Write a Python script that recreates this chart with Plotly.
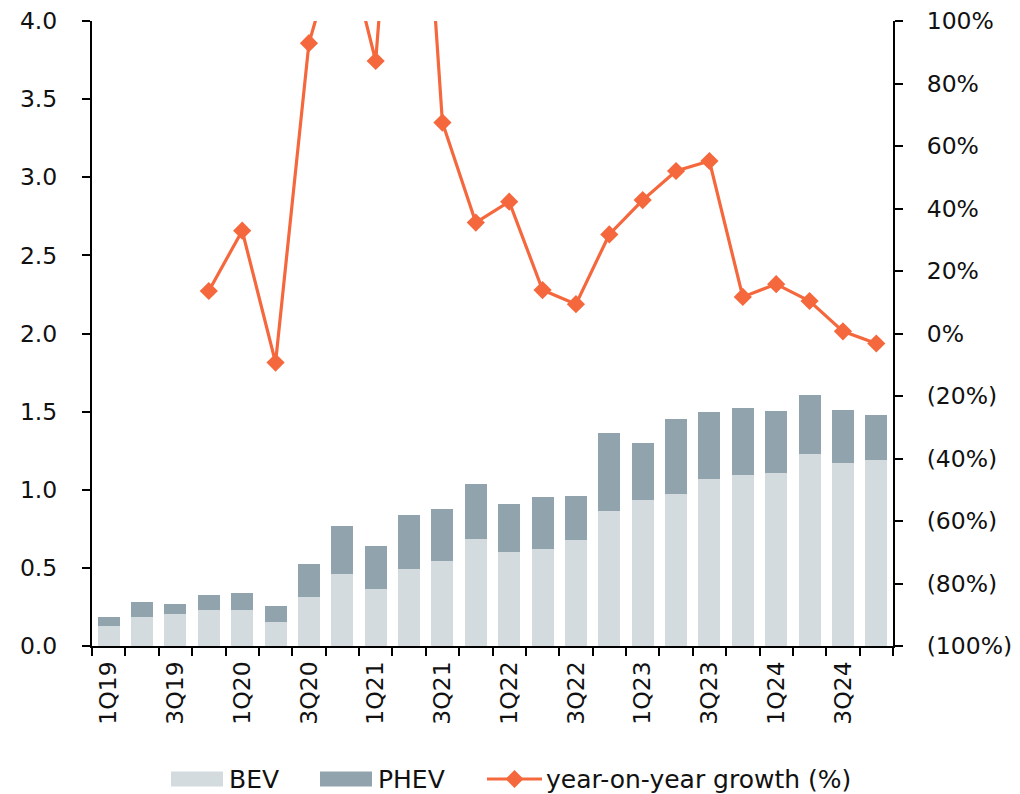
import plotly.graph_objects as go

# Quarterly plug-in vehicle sales (millions) and year-on-year growth
quarters = ["1Q19", "2Q19", "3Q19", "4Q19",
            "1Q20", "2Q20", "3Q20", "4Q20",
            "1Q21", "2Q21", "3Q21", "4Q21",
            "1Q22", "2Q22", "3Q22", "4Q22",
            "1Q23", "2Q23", "3Q23", "4Q23",
            "1Q24", "2Q24", "3Q24", "4Q24"]

bev = [0.128, 0.188, 0.205, 0.233,
       0.233, 0.156, 0.316, 0.461,
       0.363, 0.491, 0.544, 0.687,
       0.600, 0.619, 0.676, 0.866,
       0.932, 0.975, 1.067, 1.097,
       1.107, 1.227, 1.169, 1.190]

phev = [0.060, 0.092, 0.066, 0.096,
        0.109, 0.098, 0.209, 0.305,
        0.277, 0.347, 0.335, 0.350,
        0.311, 0.337, 0.286, 0.500,
        0.367, 0.480, 0.429, 0.429,
        0.397, 0.382, 0.341, 0.286]

yoy_growth = [None, None, None, 13.6,
              32.9, -9.3, 92.9, 130.0,
              87.2, 225.0, 67.5, 35.5,
              42.2, 13.9, 9.4, 31.7,
              42.7, 52.0, 55.2, 11.7,
              15.8, 10.4, 0.7, -3.2]

series_names = ["BEV", "PHEV", "year-on-year growth (%)"]

# Only every other quarter is labelled on the category axis
x_labels = [q if i % 2 == 0 else "" for i, q in enumerate(quarters)]

left_ticks = [0.0, 0.5, 1.0, 1.5, 2.0, 2.5, 3.0, 3.5, 4.0]
right_ticks = [-100, -80, -60, -40, -20, 0, 20, 40, 60, 80, 100]
right_labels = [f"({abs(v)}%)" if v < 0 else f"{v}%" for v in right_ticks]

BEV_COLOR = "#D4DBDF"
PHEV_COLOR = "#91A3AC"
LINE_COLOR = "#F5683D"
FONT = "DejaVu Sans, sans-serif"
TICK_SIZE = 23.5
LEGEND_SIZE = 25

W, H = 1020, 794
M_L, M_R, M_T, M_B = 92, 127, 21, 148
PLOT_W = W - M_L - M_R
PLOT_H = H - M_T - M_B


def px_to_paper(px, py):
    """Convert page pixel coordinates to paper coordinates."""
    return (px - M_L) / PLOT_W, (H - M_B - py) / PLOT_H


fig = go.Figure()

fig.add_trace(go.Bar(
    x=quarters, y=bev, name=series_names[0],
    marker=dict(color=BEV_COLOR, line=dict(width=0)),
))
fig.add_trace(go.Bar(
    x=quarters, y=phev, name=series_names[1],
    marker=dict(color=PHEV_COLOR, line=dict(width=0)),
))
fig.add_trace(go.Scatter(
    x=quarters, y=yoy_growth, name=series_names[2],
    yaxis="y2", mode="lines+markers",
    line=dict(color=LINE_COLOR, width=3.2),
    marker=dict(symbol="diamond", size=14, color=LINE_COLOR),
    connectgaps=False,
))

# Legend row below the axis labels, with wide swatches
legend_y = 779
shapes = []
annotations = []
swatches = [(171, 223, BEV_COLOR, series_names[0]),
            (320, 372, PHEV_COLOR, series_names[1])]
for x0, x1, col, name in swatches:
    a0, b0 = px_to_paper(x0, legend_y - 7.5)
    a1, b1 = px_to_paper(x1, legend_y + 7.5)
    shapes.append(dict(type="rect", xref="paper", yref="paper",
                       x0=a0, x1=a1, y0=b1, y1=b0,
                       fillcolor=col, line=dict(width=0)))
    tx, ty = px_to_paper(x1 + 4, legend_y)
    annotations.append(dict(xref="paper", yref="paper", x=tx, y=ty,
                            xanchor="left", yanchor="middle",
                            text=name, showarrow=False,
                            font=dict(size=LEGEND_SIZE, family=FONT)))

lx0, ly = px_to_paper(487, legend_y)
lx1, _ = px_to_paper(542, legend_y)
shapes.append(dict(type="line", xref="paper", yref="paper",
                   x0=lx0, x1=lx1, y0=ly, y1=ly,
                   line=dict(color=LINE_COLOR, width=3.2)))
cx, cy = px_to_paper(514.5, legend_y)
dx, dy = 9 / PLOT_W, 9 / PLOT_H
shapes.append(dict(type="path", xref="paper", yref="paper",
                   path=f"M {cx - dx} {cy} L {cx} {cy + dy} L {cx + dx} {cy} L {cx} {cy - dy} Z",
                   fillcolor=LINE_COLOR, line=dict(width=0)))
tx, ty = px_to_paper(544, legend_y)
annotations.append(dict(xref="paper", yref="paper", x=tx, y=ty,
                        xanchor="left", yanchor="middle",
                        text=series_names[2], showarrow=False,
                        font=dict(size=LEGEND_SIZE, family=FONT)))

fig.update_layout(
    width=W, height=H,
    margin=dict(l=M_L, r=M_R, t=M_T, b=M_B, autoexpand=False),
    paper_bgcolor="white", plot_bgcolor="white",
    barmode="stack", bargap=0.34,
    font=dict(family=FONT, size=TICK_SIZE, color="#111111"),
    showlegend=False,
    shapes=shapes,
    annotations=annotations,
    xaxis=dict(
        type="category", range=[-0.5, len(quarters) - 0.5],
        tickmode="array", tickvals=quarters, ticktext=x_labels,
        tickangle=-90, tickson="boundaries",
        ticks="outside", ticklen=8, tickwidth=2, tickcolor="black",
        showline=True, linecolor="black", linewidth=2,
        showgrid=False, zeroline=False, automargin=False,
        ticklabelstandoff=4,
    ),
    yaxis=dict(
        range=[0, 4], tickvals=left_ticks, tickformat=".1f",
        ticks="outside", ticklen=8, tickwidth=2, tickcolor="black",
        showline=True, linecolor="black", linewidth=2,
        showgrid=False, zeroline=False, automargin=False,
        ticklabelstandoff=20,
    ),
    yaxis2=dict(
        range=[-100, 100], overlaying="y", side="right",
        tickmode="array", tickvals=right_ticks, ticktext=right_labels,
        ticks="outside", ticklen=8, tickwidth=2, tickcolor="black",
        showline=True, linecolor="black", linewidth=2,
        showgrid=False, zeroline=False, automargin=False,
        ticklabelstandoff=19,
    ),
)

fig.write_html("out.html")
